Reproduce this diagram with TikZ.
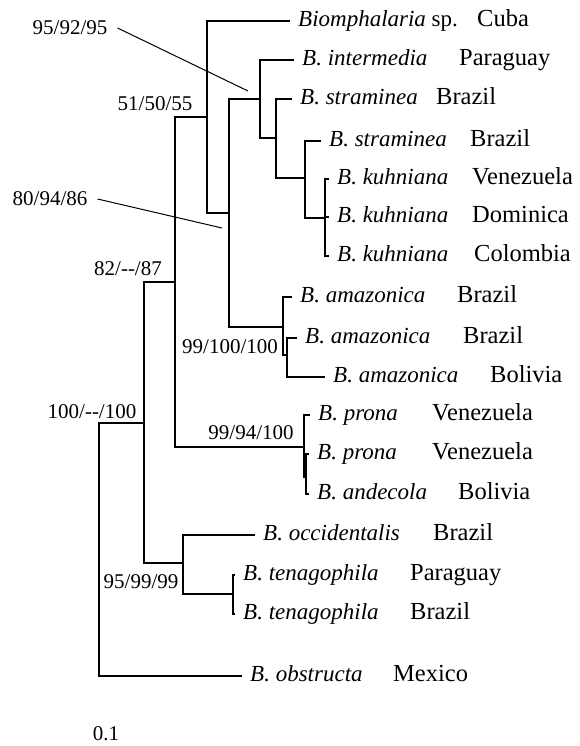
\documentclass[tikz,border=0pt]{standalone}
\usepackage{fontspec}
\setmainfont{Liberation Serif}
\usetikzlibrary{positioning}

\begin{document}
\begin{tikzpicture}[x=1pt, y=-1pt,
  branch/.style={line width=1.5pt},
  leader/.style={line width=1pt},
  taxon/.style={anchor=west, inner xsep=8pt, inner ysep=0pt,
    font=\fontsize{23}{26}\selectfont, text height=15pt, text depth=4.4pt},
  country/.style={taxon, inner xsep=0pt,
    font=\fontsize{24.5}{27}\selectfont, text height=16pt, text depth=4.7pt},
  support/.style={inner sep=0pt, font=\fontsize{21}{24}\selectfont},
  callout/.style={support, inner xsep=10pt}]

\useasboundingbox (0,0) rectangle (579,746);

%% === internal nodes of the tree ===
\coordinate (root) at (99,549);
\coordinate (A) at (144,423);
\coordinate (B) at (175,282);
\coordinate (C) at (207,117);
\coordinate (D) at (229,213);
\coordinate (E) at (260,99);
\coordinate (G) at (276,138);
\coordinate (H) at (305,178);
\coordinate (K) at (325,218);
\coordinate (M) at (283,327);
\coordinate (N) at (287,355);
\coordinate (P) at (304,447);
\coordinate (Q) at (306,477);
\coordinate (F) at (183,563);
\coordinate (T) at (233,594);

%% === tips: species and country ===
\foreach \nm/\x/\y/\sp/\cx/\ct in {
    cuba/290/21/{\textit{Biomphalaria} sp.}/477/Cuba,
    inter/294/60/\textit{B. intermedia}/459/Paraguay,
    stra1/292/99/\textit{B. straminea}/436/Brazil,
    stra2/321/141/\textit{B. straminea}/470/Brazil,
    kuhV/329/179/\textit{B. kuhniana}/472/Venezuela,
    kuhD/329/217/\textit{B. kuhniana}/472/Dominica,
    kuhC/329/256/\textit{B. kuhniana}/474/Colombia,
    amaz1/292/297/\textit{B. amazonica}/457/Brazil,
    amaz2/297/338/\textit{B. amazonica}/463/Brazil,
    amaz3/325/377/\textit{B. amazonica}/490/Bolivia,
    pron1/310/415/\textit{B. prona}/432/Venezuela,
    pron2/309/454/\textit{B. prona}/432/Venezuela,
    ande/309/494/\textit{B. andecola}/458/Bolivia,
    occi/255/535/\textit{B. occidentalis}/433/Brazil,
    ten1/235/575/\textit{B. tenagophila}/410/Paraguay,
    ten2/235/614/\textit{B. tenagophila}/410/Brazil,
    obst/242/676/\textit{B. obstructa}/393/Mexico} {
  \node[taxon] (\nm) at (\x,\y) {\sp};
  \node[country] (\nm-c) at (\cx,\y) {\ct};
}

%% === branches ===
% parent to internal node
\foreach \p/\c in {root/A, A/B, A/F, B/C, B/P, C/D, D/E, D/M,
                   E/G, G/H, H/K, M/N, P/Q, F/T} {
  \draw[branch] (\p) |- (\c);
}
% parent to tip
\foreach \p/\c in {root/obst, C/cuba, E/inter, G/stra1, H/stra2,
                   K/kuhV, K/kuhD, K/kuhC, M/amaz1, N/amaz2, N/amaz3,
                   P/pron1, Q/pron2, Q/ande, F/occi, T/ten1, T/ten2} {
  \draw[branch] (\p) |- (\c.west);
}

%% === support values ===
\node[callout] (s-inter) at (70,28) {95/92/95};
\node[support] (s-cuba) at (155,104) {51/50/55};
\node[callout] (s-stra) at (50,199) {80/94/86};
\node[support] (s-prona) at (128,269) {82/-{}-/87};
\node[support] (s-amaz) at (230,347) {99/100/100};
\node[support] (s-ande) at (251,433) {99/94/100};
\node[support] (s-ingroup) at (92,412) {100/-{}-/100};
\node[support] (s-tena) at (141,582) {95/99/99};

% leader lines to the small clades
\coordinate (s-inter-end) at (248,91);
\coordinate (s-stra-end) at (222,228);
\draw[leader] (s-inter.east) -- (s-inter-end);
\draw[leader] (s-stra.east) -- (s-stra-end);

%% === scale ===
\node[support] (scale) at (106,734) {0.1};

\end{tikzpicture}
\end{document}
